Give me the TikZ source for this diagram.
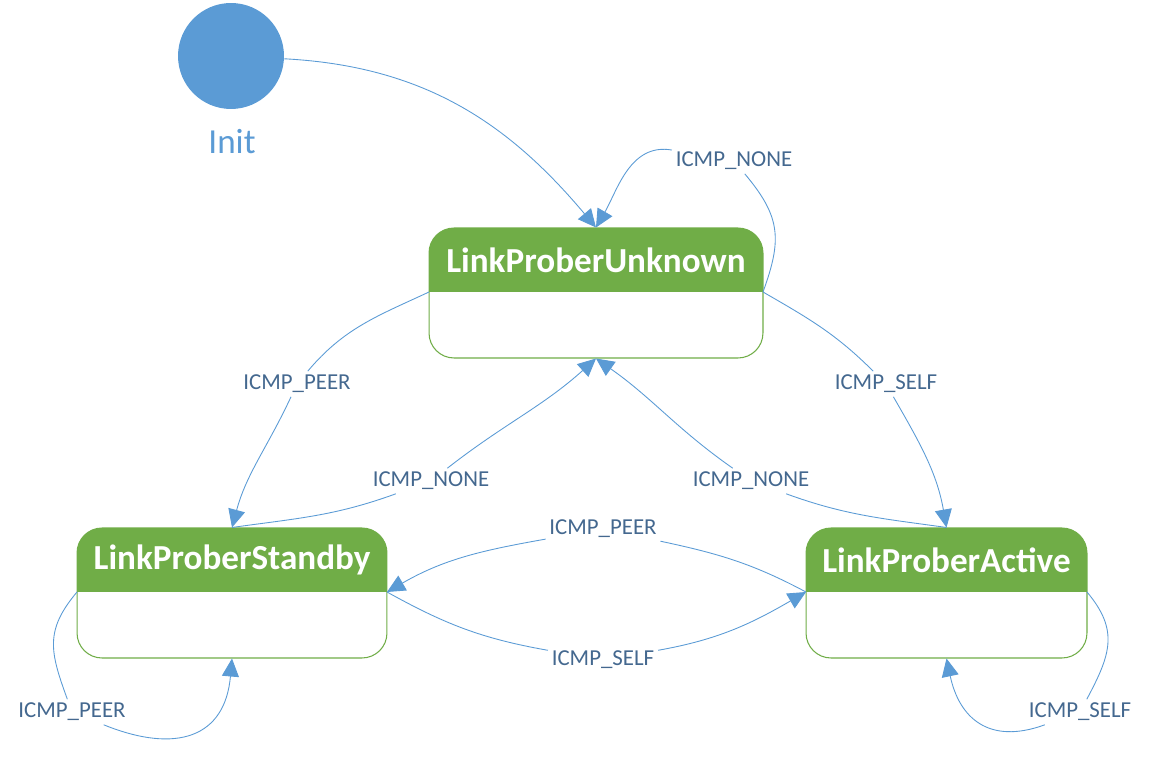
\documentclass[tikz,border=0pt]{standalone}
\usepackage{fontspec}
\setmainfont{Carlito}
\usetikzlibrary{arrows.meta}

\definecolor{stategreen}{HTML}{70AD47}
\definecolor{initblue}{HTML}{5B9BD5}
\definecolor{edgeblue}{HTML}{5B9BD5}
\definecolor{labelblue}{HTML}{44688F}

\tikzset{
  statebox/.style={draw=stategreen, line width=0.6pt, fill=white,
    rounded corners=0.5cm, minimum height=2.6cm, inner sep=0pt,
    path picture={\fill[stategreen, sharp corners] (path picture bounding box.north west)
      rectangle ([yshift=-1.28cm]path picture bounding box.north east);}},
  titletext/.style={text=white, font=\fontsize{20}{24}\selectfont\bfseries},
  lbl/.style={text=labelblue, font=\fontsize{13}{15}\selectfont, inner sep=2pt},
  edge/.style={draw=edgeblue, line width=0.5pt,
    -{Triangle[length=0.36cm,width=0.34cm]}, fill=none},
  initstate/.style={circle, fill=initblue, minimum size=2.12cm, inner sep=0pt}
}

\begin{document}
\begin{tikzpicture}[x=0.02cm, y=0.02cm]
  \useasboundingbox (0,0) rectangle (1150,-766);

  % states
  \node[initstate] (init) at (231,-56) {};
  \node[text=initblue, font=\fontsize{20}{24}\selectfont] (initlbl) at (232,-142) {Init};

  \node[statebox, minimum width=6.68cm] (unk) at (596,-293) {};
  \node[titletext] (unktitle) at (596,-260) {LinkProberUnknown};
  \node[statebox, minimum width=6.2cm] (sby) at (232,-593) {};
  \node[titletext] (sbytitle) at (232,-560) {LinkProberStandby};
  \node[statebox, minimum width=5.62cm] (act) at (946.5,-593) {};
  \node[titletext] (acttitle) at (946.5,-560) {LinkProberActive};

  % divider ends
  \coordinate (unkW) at (429,-292);
  \coordinate (unkE) at (763,-292);
  \coordinate (sbyW) at (77,-592);
  \coordinate (sbyE) at (387,-592);
  \coordinate (actW) at (806,-592);
  \coordinate (actE) at (1087,-592);

  % labels
  \node[lbl] (noneTop) at (734,-161) {ICMP\_NONE};
  \node[lbl] (peerA) at (297,-384) {ICMP\_PEER};
  \node[lbl] (selfA) at (886,-384) {ICMP\_SELF};
  \node[lbl] (noneL) at (431,-481) {ICMP\_NONE};
  \node[lbl] (noneR) at (751,-481) {ICMP\_NONE};
  \node[lbl] (peerB) at (603,-529) {ICMP\_PEER};
  \node[lbl] (selfB) at (603,-660) {ICMP\_SELF};
  \node[lbl] (peerC) at (72,-712) {ICMP\_PEER};
  \node[lbl] (selfC) at (1080,-712) {ICMP\_SELF};

  % transitions
  \draw[edge] (init) to[out=-3,in=130] (unk.north);
  \draw[edge] (unkE) to[out=70,in=-50,looseness=1.2] (noneTop)
    to[out=170,in=60] (unk.north);
  \draw[edge] (unkW) to[out=205,in=50] (peerA) to[out=245,in=75] (sby.north);
  \draw[edge] (unkE) to[out=-30,in=135] (selfA) to[out=-60,in=100] (act.north);
  \draw[edge] (sby.north) to[out=8,in=200] (noneL) to[out=38,in=-138] (unk.south);
  \draw[edge] (act.north) to[out=172,in=-20] (noneR) to[out=145,in=-35] (unk.south);
  \draw[edge] (actW) to[out=152,in=-12] (peerB) to[out=190,in=30] (sbyE);
  \draw[edge] (sbyE) to[out=-29,in=170] (selfB) to[out=10,in=-150] (actW);
  \draw[edge] (sbyW) to[out=230,in=110,looseness=1.2] (peerC)
    to[out=-22,in=-95,looseness=1.4] (sby.south);
  \draw[edge] (actE) to[out=-50,in=62,looseness=1.2] (selfC)
    to[out=200,in=-78,looseness=1.3] (act.south);
\end{tikzpicture}
\end{document}
